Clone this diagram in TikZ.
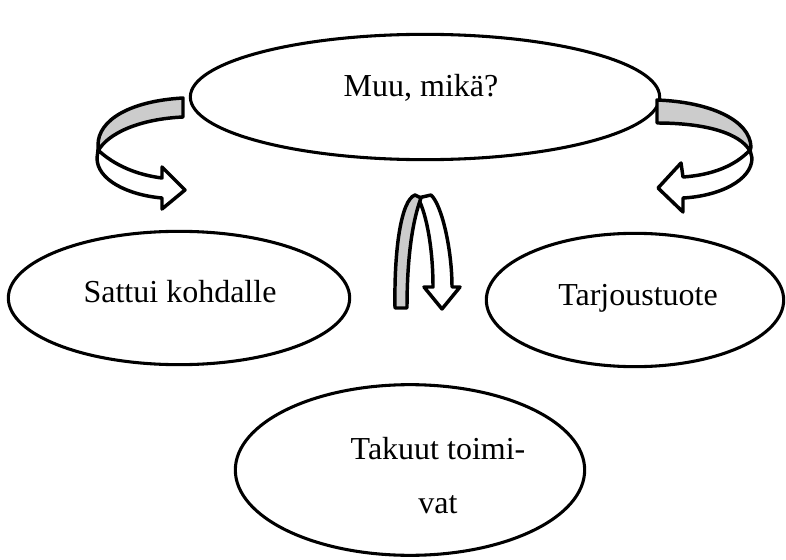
\documentclass[tikz,border=0pt]{standalone}
\usepackage{fontspec}
\setmainfont{Liberation Serif}
\usetikzlibrary{shapes.geometric}

\begin{document}
\begin{tikzpicture}[
        x=0.75pt, y=-0.75pt,
        bubble/.style={draw, ellipse, line width=2.3pt, inner sep=0pt},
        ribbon/.style={draw, line width=2.6pt, line join=round},
        backside/.style={ribbon, fill=gray!40},
        frontside/.style={ribbon, fill=white},
        word/.style={anchor=base, align=center, font=\fontsize{24}{28}\selectfont}
    ]
    \useasboundingbox (0,0) rectangle (786,560);

    % ==========================================
    % ELLIPSES
    % ==========================================
    \node[bubble, minimum width=352pt, minimum height=94pt] (muu) at (425,97) {};
    \node[bubble, minimum width=256pt, minimum height=100pt] (sattui) at (179,298) {};
    \node[bubble, minimum width=223pt, minimum height=100pt] (tarjous) at (635,300) {};
    \node[bubble, minimum width=262pt, minimum height=128pt] (takuut) at (410,470) {};

    \node[word] (muu-txt) at (421,97) {Muu, mikä?};
    \node[word] (sattui-txt) at (180,302) {Sattui kohdalle};
    \node[word] (tarjous-txt) at (638,305) {Tarjoustuote};
    \node[word] (takuut-txt) at (438,513) {Takuut toimi-\\[12pt]vat};

    % ==========================================
    % CURVED ARROWS
    % ==========================================
    % left: turns down towards Sattui kohdalle
    \draw[frontside] (98,150) .. controls (115,166) and (138,175) .. (162,178)
        -- (162,167) -- (185,190) -- (162,209) -- (162,198)
        .. controls (128,195) and (97,180) .. (97,158) -- cycle;
    \draw[backside] (183,98) .. controls (130,101) and (98,120) .. (98,145)
        -- (98,151) .. controls (108,133) and (140,119) .. (183,117) -- cycle;

    % right: turns down towards Tarjoustuote
    \draw[frontside] (750,150) .. controls (735,166) and (712,175) .. (683,177)
        -- (681,163) -- (658,188) -- (683,212) -- (683,198)
        .. controls (720,196) and (752,180) .. (752,158) -- cycle;
    \draw[backside] (657,100) .. controls (710,102) and (750,120) .. (751,147)
        -- (750,151) .. controls (740,133) and (705,123) .. (657,123) -- cycle;

    % middle: u-turn down towards Takuut toimivat
    \draw[frontside] (418,198) -- (431,195) .. controls (442,205) and (452,250) .. (452,287)
        -- (460,287) -- (442,309) -- (424,287) -- (433,287)
        .. controls (433,250) and (427,215) .. (418,198) -- cycle;
    \draw[backside] (395,308) .. controls (394,250) and (401,200) .. (415,195)
        -- (421,198) .. controls (411,225) and (407,265) .. (407,308) -- cycle;
\end{tikzpicture}
\end{document}
